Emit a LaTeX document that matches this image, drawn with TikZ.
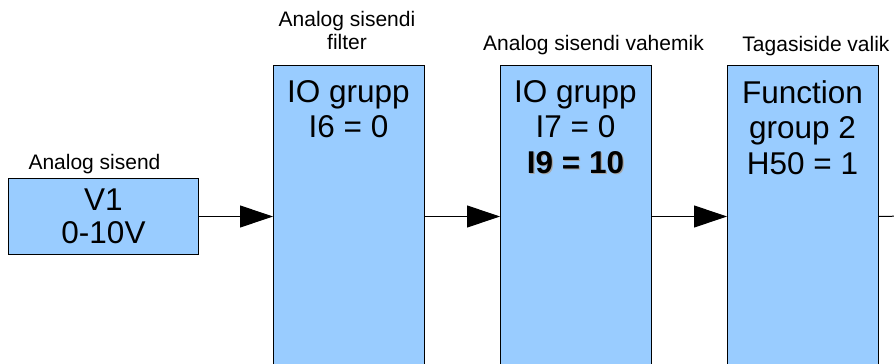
\documentclass[tikz,border=0pt]{standalone}
\usepackage{fontspec}
\setmainfont{Liberation Sans}
\usetikzlibrary{arrows.meta}
\definecolor{boxblue}{HTML}{99CCFF}
\begin{document}
\begin{tikzpicture}[x=1pt,y=-1pt,
  box/.style={draw=black, line width=1pt, fill=boxblue, inner sep=0pt, anchor=north west},
  tallbox/.style={box, minimum width=151pt, minimum height=330pt},
  boxtext/.style={font=\fontsize{31.5}{35.5}\selectfont, align=center, inner sep=0pt, anchor=north},
  lbl/.style={font=\fontsize{21}{23}\selectfont, align=center, inner sep=0pt},
  conn/.style={line width=1pt, -{Triangle[length=33pt,width=22pt]}},
  plainconn/.style={line width=1pt}]
\useasboundingbox (0,0) rectangle (894,364);
\clip (0,0) rectangle (894,364);
% boxes
\node[box, minimum width=190pt, minimum height=76pt] (v1) at (8,178) {};
\node[tallbox] (b1) at (273,65) {};
\node[tallbox] (b2) at (500,65) {};
\node[tallbox] (b3) at (727,65) {};
% box texts
\node[font=\fontsize{31.5}{33.5}\selectfont, align=center, inner sep=0pt] (v1t) at (v1.center) {V1\\0-10V};
\node[boxtext] (b1t) at (348.5,80) {IO grupp\\I6 = 0};
\node[boxtext] (b2t) at (575.5,80) {IO grupp\\I7 = 0\\{\color{black!35}\rlap{\hspace{1.2pt}\raisebox{-1.2pt}{\bfseries I9 = 10}}}\bfseries I9 = 10};
\node[boxtext] (b3t) at (802.5,80) {Function\\group 2\\H50 = 1};
% labels
\node[lbl, anchor=base] (l0) at (94.5,169) {Analog sisend};
\node[lbl, anchor=south] (l1) at (347,50) {Analog sisendi\\filter};
\node[lbl, anchor=base] (l2) at (593.5,50.7) {Analog sisendi vahemik};
\node[lbl, anchor=base] (l3) at (816,51) {Tagasiside valik};
% connectors
\coordinate (out) at (905,216);
\draw[conn] (v1.east) -- (v1.east -| b1.west);
\draw[conn] (v1.east -| b1.east) -- (v1.east -| b2.west);
\draw[conn] (v1.east -| b2.east) -- (v1.east -| b3.west);
\draw[plainconn] (v1.east -| b3.east) -- (out);
\end{tikzpicture}
\end{document}
